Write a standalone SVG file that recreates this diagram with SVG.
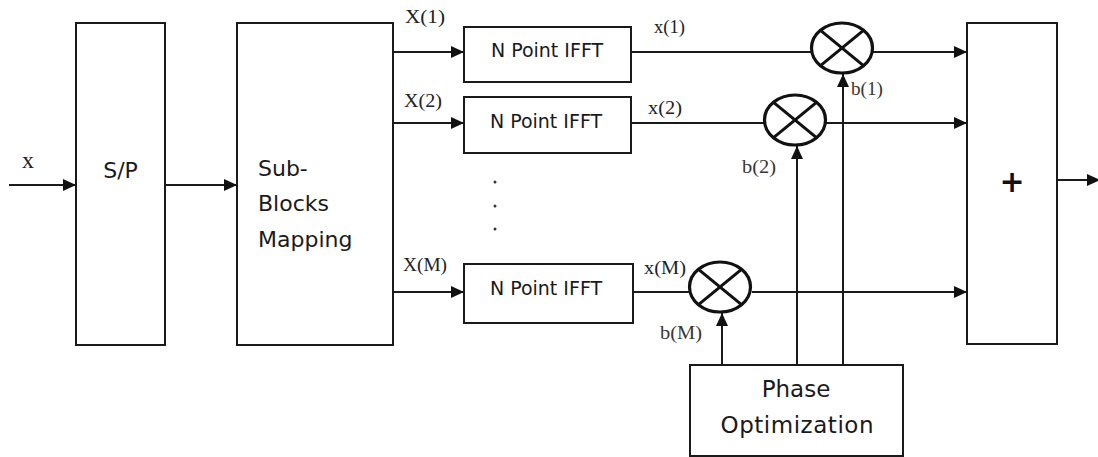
<svg xmlns="http://www.w3.org/2000/svg" width="1098" height="457" viewBox="0 0 1098 457">
<defs>
<style>
.box{fill:#fff;stroke:#1a1a1a;stroke-width:2}
.ln{fill:none;stroke:#1a1a1a;stroke-width:2}
.arr{fill:none;stroke:#1a1a1a;stroke-width:2;marker-end:url(#ah)}
.mul{fill:#fff;stroke:#111;stroke-width:3.2}
.cross{stroke:#111;stroke-width:3}
.bt{font-family:"DejaVu Sans",Verdana,sans-serif;fill:#1a1a1a}
.lb{font-family:"Liberation Serif","Times New Roman",serif;font-size:18px;fill:#222}
.lbb{font-family:"Liberation Serif","Times New Roman",serif;font-size:18px;fill:#3a3530}
</style>
<marker id="ah" markerUnits="userSpaceOnUse" markerWidth="14" markerHeight="12" refX="13" refY="6" orient="auto">
<path d="M0,0 L13,6 L0,12 z" fill="#111"/>
</marker>
</defs>
<rect width="1098" height="457" fill="#fff"/>

<g id="connectors">
<line class="arr" x1="9" y1="185" x2="76" y2="185"/>
<line class="arr" x1="165" y1="185" x2="237" y2="185"/>
<line class="arr" x1="393" y1="52" x2="464" y2="52"/>
<line class="arr" x1="393" y1="123" x2="464" y2="123"/>
<line class="arr" x1="393" y1="292" x2="464" y2="292"/>
<line class="ln" x1="631" y1="52" x2="812" y2="52"/>
<line class="ln" x1="631" y1="123" x2="765" y2="123"/>
<line class="ln" x1="633" y1="292" x2="690" y2="292"/>
<line class="arr" x1="873" y1="52" x2="967" y2="52"/>
<line class="arr" x1="826" y1="123" x2="967" y2="123"/>
<line class="arr" x1="752" y1="292" x2="967" y2="292"/>
<line class="arr" x1="797" y1="365" x2="797" y2="146"/>
<line class="arr" x1="843" y1="365" x2="843" y2="74"/>
<line class="arr" x1="722" y1="365" x2="722" y2="313"/>
<line class="arr" x1="1057" y1="180" x2="1100" y2="180"/>
</g>

<g id="input-label"><text class="lb" x="22" y="168" style="font-size:24px">x</text></g>

<g id="sp">
<rect class="box" x="76" y="23" width="89" height="322"/>
<text class="bt" x="120.5" y="178" font-size="22" text-anchor="middle">S/P</text>
</g>

<g id="subblocks">
<rect class="box" x="237" y="23" width="156" height="322"/>
<text class="bt" x="258" y="176" font-size="22">Sub-</text>
<text class="bt" x="258" y="211" font-size="22">Blocks</text>
<text class="bt" x="258" y="247" font-size="22">Mapping</text>
</g>

<g id="ifft1">
<rect class="box" x="464" y="27" width="167" height="55"/>
<text class="bt" x="547" y="57" font-size="19" text-anchor="middle">N Point IFFT</text>
</g>
<g id="ifft2">
<rect class="box" x="464" y="97" width="167" height="56"/>
<text class="bt" x="546" y="128" font-size="19" text-anchor="middle">N Point IFFT</text>
</g>
<g id="ifft3">
<rect class="box" x="464" y="264" width="169" height="59"/>
<text class="bt" x="546" y="295" font-size="19" text-anchor="middle">N Point IFFT</text>
</g>

<g id="dots" fill="#333">
<circle cx="495" cy="182" r="1.5"/>
<circle cx="495" cy="206" r="1.5"/>
<circle cx="495" cy="229" r="1.5"/>
</g>

<g id="mul1">
<ellipse class="mul" cx="842" cy="48" rx="30.5" ry="25"/>
<line class="cross" x1="820.5" y1="30.3" x2="863.5" y2="65.7"/>
<line class="cross" x1="863.5" y1="30.3" x2="820.5" y2="65.7"/>
</g>
<g id="mul2">
<ellipse class="mul" cx="795" cy="120" rx="30.5" ry="25"/>
<line class="cross" x1="773.5" y1="102.3" x2="816.5" y2="137.7"/>
<line class="cross" x1="816.5" y1="102.3" x2="773.5" y2="137.7"/>
</g>
<g id="mulM">
<ellipse class="mul" cx="720" cy="287" rx="30.5" ry="25"/>
<line class="cross" x1="698.5" y1="269.3" x2="741.5" y2="304.7"/>
<line class="cross" x1="741.5" y1="269.3" x2="698.5" y2="304.7"/>
</g>

<g id="sum">
<rect class="box" x="967" y="23" width="90" height="321"/>
<text x="1012" y="192" font-family="DejaVu Sans,sans-serif" font-weight="bold" font-size="30" text-anchor="middle" fill="#111">+</text>
</g>

<g id="phase">
<rect class="box" x="690" y="365" width="213" height="91"/>
<text class="bt" x="796" y="397" font-size="23" text-anchor="middle">Phase</text>
<text class="bt" x="797" y="433" font-size="23" text-anchor="middle" textLength="153" lengthAdjust="spacing">Optimization</text>
</g>

<g id="labels">
<text class="lb" x="405" y="23" textLength="40" lengthAdjust="spacingAndGlyphs">X(1)</text>
<text class="lb" x="404" y="107" textLength="38" lengthAdjust="spacingAndGlyphs">X(2)</text>
<text class="lb" x="403" y="271" textLength="44" lengthAdjust="spacingAndGlyphs">X(M)</text>
<text class="lb" x="654" y="33" textLength="31" lengthAdjust="spacingAndGlyphs">x(1)</text>
<text class="lb" x="648" y="114" textLength="34" lengthAdjust="spacingAndGlyphs">x(2)</text>
<text class="lb" x="644" y="274" textLength="42" lengthAdjust="spacingAndGlyphs">x(M)</text>
<text class="lbb" x="851" y="95" textLength="32" lengthAdjust="spacingAndGlyphs">b(1)</text>
<text class="lbb" x="742" y="173" textLength="34" lengthAdjust="spacingAndGlyphs">b(2)</text>
<text class="lbb" x="660" y="339" textLength="42" lengthAdjust="spacingAndGlyphs">b(M)</text>
</g>
</svg>
